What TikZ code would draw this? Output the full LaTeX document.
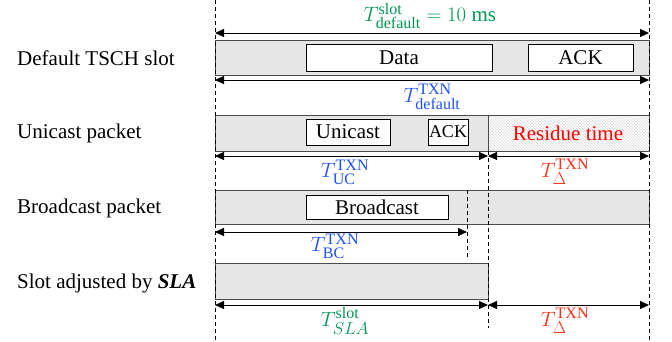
\documentclass[tikz,border=0pt]{standalone}
\usepackage{amsmath}
\usepackage{fontspec}
\setmainfont{Liberation Serif}
\usepackage{tikz}
\usetikzlibrary{arrows.meta,patterns}
\DeclareMathSizes{21}{21}{16}{12}
\definecolor{slotgreen}{RGB}{0,150,80}
\definecolor{txnblue}{RGB}{30,80,255}
\definecolor{deltared}{RGB}{255,45,20}
\definecolor{barfill}{RGB}{230,230,230}
\definecolor{bardraw}{RGB}{75,75,75}

\begin{document}
\begin{tikzpicture}[
  x=1pt, y=-1pt,
  font=\fontsize{21}{24}\selectfont,
  bar/.style={draw=bardraw, line width=1pt, fill=barfill, anchor=north west,
              inner sep=0pt},
  pkt/.style={draw=black, line width=1pt, fill=white, inner sep=0pt,
              minimum height=26pt},
  rowlbl/.style={anchor=west, inner sep=0pt},
  guide/.style={line width=0.8pt, dash pattern=on 4pt off 3pt},
  dim/.style={{Triangle[length=9pt,width=8pt]}-{Triangle[length=9pt,width=8pt]},
              line width=1pt},
]
\useasboundingbox (0,0) rectangle (672,341);

% ===================== row labels =====================
\node[rowlbl] (lbldef) at (17,58)  {Default TSCH slot};
\node[rowlbl] (lbluc)  at (17,133) {Unicast packet};
\node[rowlbl] (lblbc)  at (17,208) {Broadcast packet};
\node[rowlbl] (lblsla) at (17,283) {Slot adjusted by \textbf{\textit{SLA}}};

% ===================== bars =====================
\node[bar, minimum width=434pt, minimum height=35pt] (slot)  at (215,40)  {};
\node[bar, minimum width=273pt, minimum height=36pt] (uc)    at (215,115) {};
\node[bar, minimum width=161pt, minimum height=36pt,
      pattern=north west lines, pattern color=black!16] (res) at (488,115) {};
\node[bar, minimum width=434pt, minimum height=34pt] (bc)    at (215,190) {};
\node[bar, minimum width=273pt, minimum height=36pt] (sla)   at (215,263) {};

% packets inside the bars
\node[pkt, minimum width=186pt, minimum height=27pt] (data)  at (399,57.5) {Data};
\node[pkt, minimum width=105pt, minimum height=27pt] (ack)   at (580.5,57.5) {ACK};
\node[pkt, minimum width=84pt]  (ucpkt) at (348,132) {Unicast};
\node[pkt, minimum width=40pt, font=\fontsize{18}{20}\selectfont] (ucack) at (448,132) {ACK};
\node[pkt, minimum width=142pt, minimum height=24pt] (bcpkt) at (377,207) {Broadcast};
\node[text=red] (restxt) at (568,133) {Residue time};

% ===================== guide lines =====================
\coordinate (gl0) at (215,0);   \coordinate (gl1) at (215,341);
\coordinate (gr0) at (649,0);   \coordinate (gr1) at (649,341);
\coordinate (gm0) at (488,151); \coordinate (gm1) at (488,328);
\coordinate (gb0) at (467,190); \coordinate (gb1) at (467,259);
\draw[guide] (gl0) -- (gl1);
\draw[guide] (gr0) -- (gr1);
\draw[guide] (gm0) -- (gm1);
\draw[guide] (gb0) -- (gb1);

% ===================== dimension arrows =====================
\coordinate (d1a) at (215,33);  \coordinate (d1b) at (649,33);
\coordinate (d2a) at (215,80);  \coordinate (d2b) at (649,80);
\coordinate (d3a) at (215,156); \coordinate (d3m) at (488,156); \coordinate (d3b) at (649,156);
\coordinate (d4a) at (215,232); \coordinate (d4b) at (467,232);
\coordinate (d5a) at (215,305); \coordinate (d5m) at (488,305); \coordinate (d5b) at (649,305);

\draw[dim] (d1a) -- (d1b);
\draw[dim] (d2a) -- (d2b);
\draw[dim] (d3a) -- (d3m);
\draw[dim] (d3m) -- (d3b);
\draw[dim] (d4a) -- (d4b);
\draw[dim] (d5a) -- (d5m);
\draw[dim] (d5m) -- (d5b);

% labels
\node[text=slotgreen] (tslot)  at (430,16)  {$T^{\mathrm{slot}}_{\mathrm{default}} = 10\ \mathrm{ms}$};
\node[text=txnblue]   (tdef)   at (432,97)  {$T^{\mathrm{TXN}}_{\mathrm{default}}$};
\node[text=txnblue]   (tuc)    at (345,172) {$T^{\mathrm{TXN}}_{\mathrm{UC}}$};
\node[text=deltared]  (tdel1)  at (565,172) {$T^{\mathrm{TXN}}_{\Delta}$};
\node[text=txnblue]   (tbc)    at (335,246) {$T^{\mathrm{TXN}}_{\mathrm{BC}}$};
\node[text=slotgreen] (tsla)   at (345,321) {$T^{\mathrm{slot}}_{SLA}$};
\node[text=deltared]  (tdel2)  at (565,321) {$T^{\mathrm{TXN}}_{\Delta}$};

\end{tikzpicture}
\end{document}
